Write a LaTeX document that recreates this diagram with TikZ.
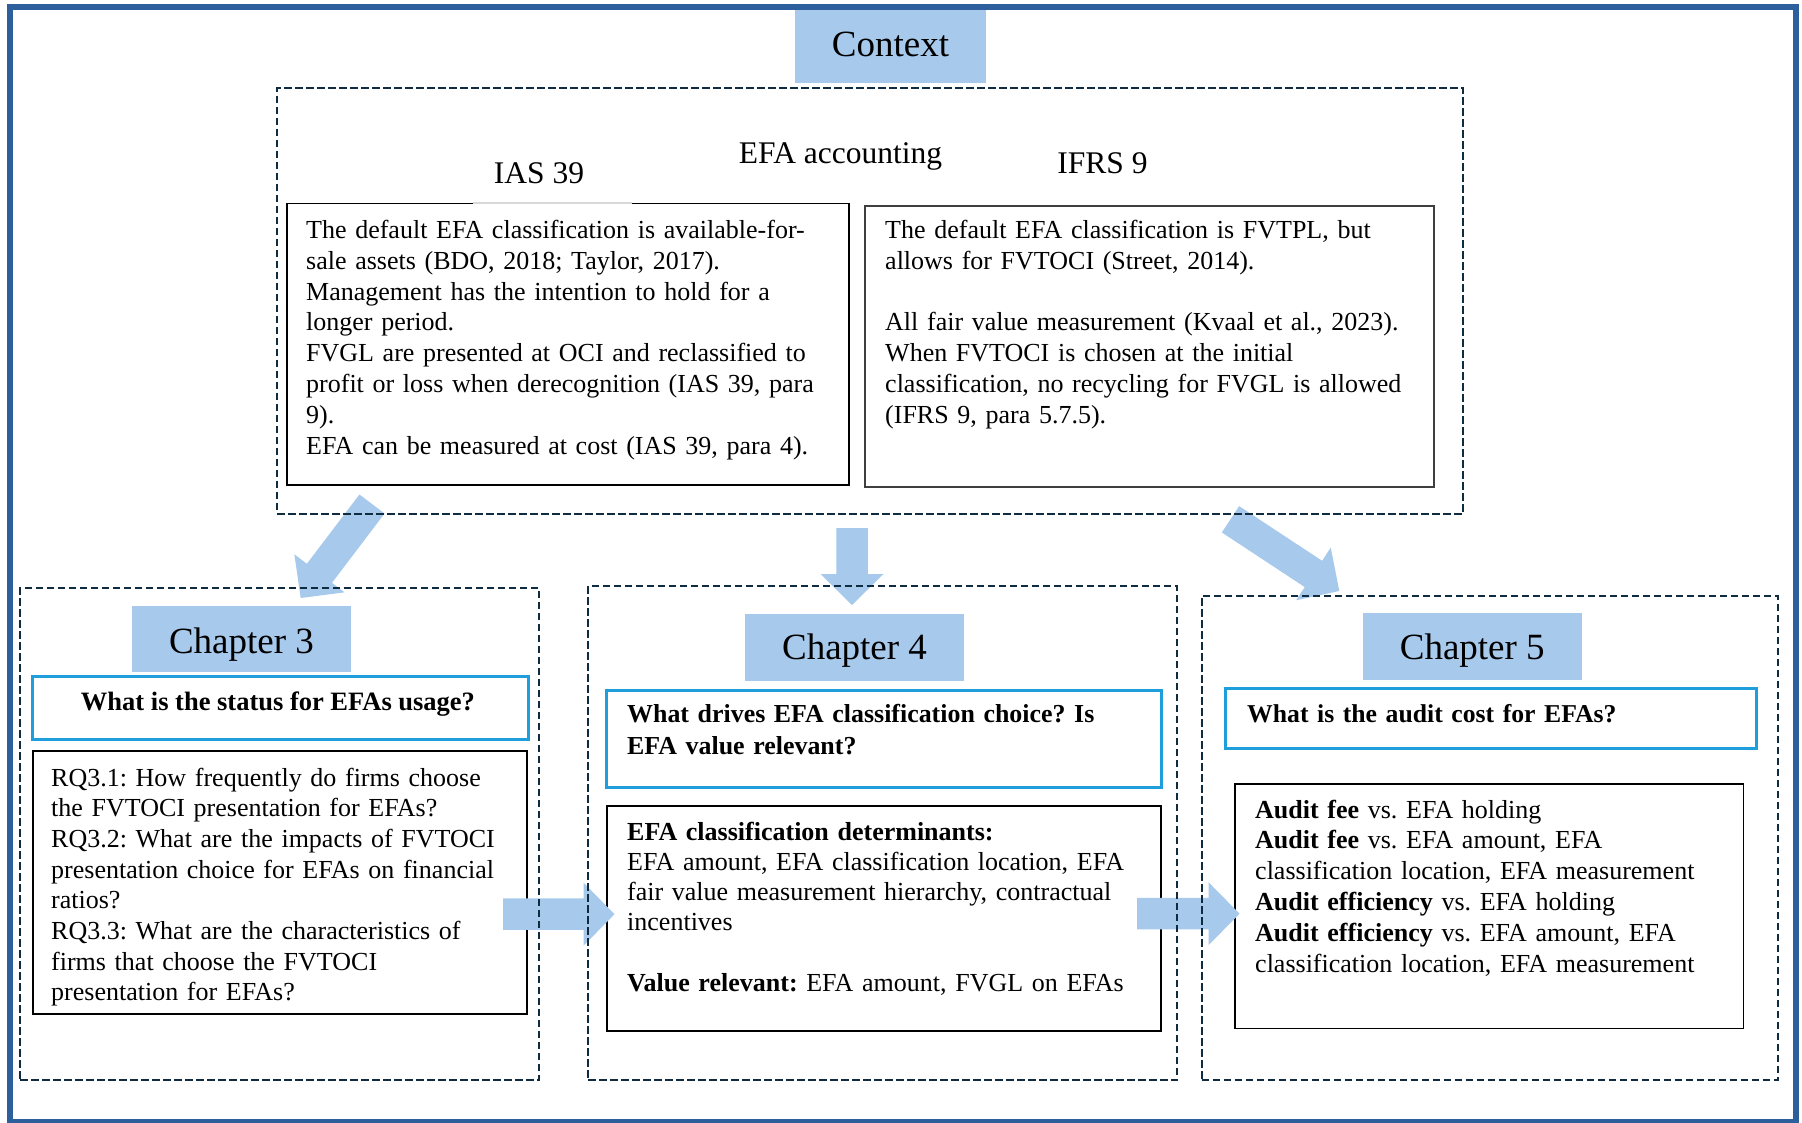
\documentclass[tikz,border=0pt]{standalone}
\usepackage{fontspec}
\setmainfont{Liberation Serif}
\usetikzlibrary{calc}

\definecolor{framecol}{HTML}{2C5F9C}
\definecolor{lblue}{HTML}{A7C9EB}
\definecolor{dashcol}{HTML}{0F2B40}
\definecolor{qcyan}{HTML}{1E9FDC}
\definecolor{boxgray}{HTML}{3F3F3F}

\tikzset{
  dashbox/.style={draw=dashcol, line width=2.2pt, dash pattern=on 7.5pt off 3.5pt, inner sep=0pt, anchor=north west},
  lblbox/.style={fill=lblue, inner sep=0pt, font=\fontsize{37}{44}\selectfont},
  qbox/.style={draw=qcyan, line width=2.6pt, inner sep=0pt, anchor=north west},
  cbox/.style={draw=black, line width=1.5pt, inner sep=0pt, anchor=north west},
  body/.style={inner sep=0pt, align=left, anchor=base west},
  bigtxt/.style={inner sep=0pt, anchor=base, font=\fontsize{31.5}{38}\selectfont},
  arrowfill/.style={fill=lblue},
}

\newcommand{\blockarrow}[2]{%
  \coordinate (ba-base) at ($(#2)!31pt!(#1)$);
  \fill[arrowfill] ($(#1)!15.75pt!90:(#2)$) -- ($(ba-base)!15.75pt!-90:(#1)$)
    -- ($(ba-base)!31.5pt!-90:(#1)$) -- (#2) -- ($(ba-base)!31.5pt!90:(#1)$)
    -- ($(ba-base)!15.75pt!90:(#1)$) -- ($(#1)!15.75pt!-90:(#2)$) -- cycle;
}

\begin{document}
\frenchspacing
\begin{tikzpicture}[x=1pt,y=-1pt]
\useasboundingbox (0,0) rectangle (1802,1123);

% ---------- solid boxes ----------
\node[cbox, minimum width=562pt, minimum height=281pt] (ias) at (286,203) {};
\draw[draw=gray!30, line width=1.5pt] (472.7,203) -- (631.7,203);
\node[cbox, draw=boxgray, line width=2pt, minimum width=569.5pt, minimum height=281pt] (ifrs) at (863.5,205) {};

\node[qbox, minimum width=496pt, minimum height=63pt] (q3) at (31,675) {};
\node[cbox, minimum width=494pt, minimum height=263pt] (c3) at (32,750) {};

\node[qbox, minimum width=555pt, minimum height=97pt] (q4) at (605,689) {};
\node[cbox, minimum width=554pt, minimum height=225pt] (c4) at (606,805) {};

\node[qbox, minimum width=531pt, minimum height=60pt] (q5) at (1224,687) {};
\node[cbox, minimum width=508.5pt, minimum height=244.6pt] (c5) at (1234,783) {};

% ---------- labels ----------
\node[lblbox, minimum width=191pt, minimum height=74.5pt, text height=35pt, text depth=13.5pt] (ctxlbl) at (890.5,46.25) {Context};
\node[lblbox, minimum width=219pt, minimum height=66pt, text height=40pt, text depth=12pt] (ch3lbl) at (241.5,639) {Chapter 3};
\node[lblbox, minimum width=219pt, minimum height=67pt, text height=38pt, text depth=13.6pt] (ch4lbl) at (854.5,647.5) {Chapter 4};
\node[lblbox, minimum width=219.5pt, minimum height=67pt, text height=38pt, text depth=13pt] (ch5lbl) at (1472.25,646.5) {Chapter 5};

% ---------- block arrows ----------
\coordinate (a1t) at (372,504);     \coordinate (a1h) at (300.7,598);
\coordinate (a2t) at (852,528);     \coordinate (a2h) at (852,605);
\coordinate (a3t) at (1230.5,519.3);\coordinate (a3h) at (1339.3,591);
\coordinate (a4t) at (503,914.2);   \coordinate (a4h) at (614.5,914.2);
\coordinate (a5t) at (1137,913.7);  \coordinate (a5h) at (1239.5,913.7);
\blockarrow{a1t}{a1h}
\blockarrow{a2t}{a2h}
\blockarrow{a3t}{a3h}
\blockarrow{a4t}{a4h}
\blockarrow{a5t}{a5h}

% ---------- dashed containers ----------
\node[dashbox, minimum width=1186pt, minimum height=425.5pt] (ctx) at (276,87) {};
\node[dashbox, minimum width=519pt, minimum height=492pt] (ch3) at (19,587) {};
\node[dashbox, minimum width=589pt, minimum height=494pt] (ch4) at (587,585) {};
\node[dashbox, minimum width=576pt, minimum height=484.5pt] (ch5) at (1200.5,594.5) {};

% ---------- texts ----------
\node[bigtxt] (efaacc) at (840.5,163.3) {EFA accounting};
\node[bigtxt] (ias39) at (539,183.3) {IAS 39};
\node[bigtxt] (ifrs9) at (1102.5,174) {IFRS 9};

\node[body, text width=530pt, font=\fontsize{26}{30.9}\selectfont] (iastxt) at (306,238.3) {The default EFA classification is available-for-\\
sale assets (BDO, 2018; Taylor, 2017).\\
Management has the intention to hold for a\\
longer period.\\
FVGL are presented at OCI and reclassified to\\
profit or loss when derecognition (IAS 39, para\\
9).\\
EFA can be measured at cost (IAS 39, para 4).};

\node[body, text width=535pt, font=\fontsize{26}{30.9}\selectfont] (ifrstxt) at (885,238.3) {The default EFA classification is FVTPL, but\\
allows for FVTOCI (Street, 2014).\\[30.9pt]
All fair value measurement (Kvaal et al., 2023).\\
When FVTOCI is chosen at the initial\\
classification, no recycling for FVGL is allowed\\
(IFRS 9, para 5.7.5).};

\node[inner sep=0pt, anchor=base, font=\fontsize{26.5}{30.9}\selectfont\bfseries] (q3txt) at (278,710) {What is the status for EFAs usage?};

\node[body, text width=468pt, font=\fontsize{26}{30.7}\selectfont] (c3txt) at (51,786) {RQ3.1: How frequently do firms choose\\
the FVTOCI presentation for EFAs?\\
RQ3.2: What are the impacts of FVTOCI\\
presentation choice for EFAs on financial\\
ratios?\\
RQ3.3: What are the characteristics of\\
firms that choose the FVTOCI\\
presentation for EFAs?};

\node[body, text width=525pt, font=\fontsize{25.9}{31.5}\selectfont\bfseries] (q4txt) at (627,722.5) {What drives EFA classification choice? Is\\
EFA value relevant?};

\node[body, text width=525pt, font=\fontsize{26}{30.3}\selectfont] (c4txt) at (627,840) {\textbf{EFA classification determinants:}\\
EFA amount, EFA classification location, EFA\\
fair value measurement hierarchy, contractual\\
incentives\\[30.3pt]
\textbf{Value relevant:} EFA amount, FVGL on EFAs};

\node[body, text width=500pt, font=\fontsize{25.7}{30.9}\selectfont\bfseries] (q5txt) at (1247,722.5) {What is the audit cost for EFAs?};

\node[body, text width=480pt, font=\fontsize{26}{30.8}\selectfont] (c5txt) at (1255,818) {\textbf{Audit fee} vs. EFA holding\\
\textbf{Audit fee} vs. EFA amount, EFA\\
classification location, EFA measurement\\
\textbf{Audit efficiency} vs. EFA holding\\
\textbf{Audit efficiency} vs. EFA amount, EFA\\
classification location, EFA measurement};

% ---------- outer frame ----------
\draw[framecol, line width=6pt] (9.7,7.3) rectangle (1796,1121.5);
\end{tikzpicture}
\end{document}
